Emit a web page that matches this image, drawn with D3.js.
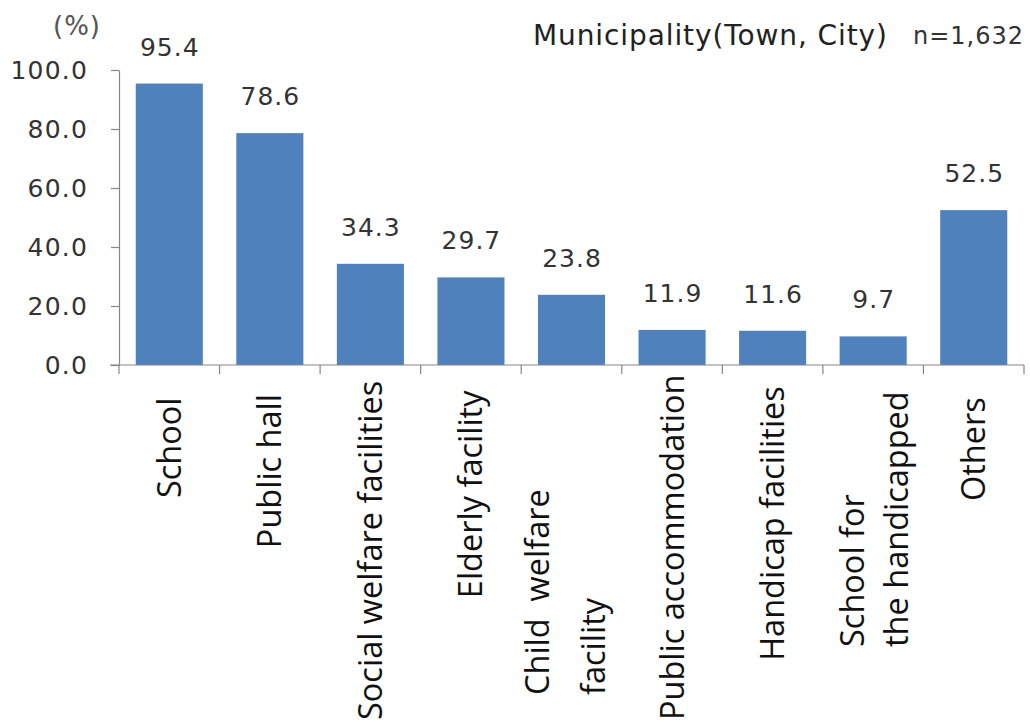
<!DOCTYPE html>
<html>
<head>
<meta charset="utf-8">
<script src="https://cdn.jsdelivr.net/npm/d3@7"></script>
<style>
  html, body { margin: 0; padding: 0; background: #fff; }
  svg { display: block; }
  text { white-space: pre; }
</style>
</head>
<body>
<svg id="chart" width="1030" height="722"></svg>
<script>
// Facility types (each entry is a list of label lines)
const categories = [
  ["School"],
  ["Public hall"],
  ["Social welfare facilities"],
  ["Elderly facility"],
  ["Child  welfare", "facility"],
  ["Public accommodation"],
  ["Handicap facilities"],
  ["School for", "the handicapped"],
  ["Others"]
];
const values = [95.4, 78.6, 34.3, 29.7, 23.8, 11.9, 11.6, 9.7, 52.5];
const yTicks = [0, 20, 40, 60, 80, 100];
const titleText = "Municipality(Town, City)";
const sampleText = "n=1,632";
const unitText = "(%)";

const svg = d3.select("#chart");
const numFont = "'DejaVu Sans', Verdana, sans-serif";
const labelFont = "'Open Sans', 'Noto Sans', sans-serif";

const plotLeft = 119, plotRight = 1024, plotTop = 70, plotBottom = 365;
const keys = categories.map((c, i) => i);

const x = d3.scaleBand().domain(keys).range([plotLeft, plotRight])
  .paddingInner(0.333).paddingOuter(0.1665);
const y = d3.scaleLinear().domain([0, 100]).range([plotBottom, plotTop]);

// Bars
svg.append("g").selectAll("rect").data(values).join("rect")
  .attr("x", (d, i) => x(i))
  .attr("y", d => y(d))
  .attr("width", x.bandwidth())
  .attr("height", d => y(0) - y(d))
  .attr("fill", "#4f81bd");

// Y axis
const yAxis = svg.append("g")
  .attr("transform", `translate(${plotLeft},0)`)
  .call(d3.axisLeft(y).tickValues(yTicks).tickFormat(d3.format(".1f")).tickSize(8).tickSizeOuter(0).tickPadding(23));
yAxis.select(".domain").attr("stroke", "#868686").attr("stroke-width", 1.2);
yAxis.selectAll(".tick line").attr("stroke", "#868686").attr("stroke-width", 1.2);
yAxis.selectAll(".tick text")
  .attr("font-family", numFont).attr("font-size", 25).attr("letter-spacing", 1.2)
  .attr("fill", "#333");

// X axis: boundary ticks between categories
const step = x.step();
const boundaries = d3.range(categories.length + 1).map(i => plotLeft + i * step);
const xAxis = svg.append("g");
xAxis.append("line")
  .attr("x1", plotLeft - 9).attr("x2", plotRight)
  .attr("y1", plotBottom).attr("y2", plotBottom)
  .attr("stroke", "#868686").attr("stroke-width", 1.2);
xAxis.selectAll("line.tick").data(boundaries).join("line")
  .attr("class", "tick")
  .attr("x1", d => d).attr("x2", d => d)
  .attr("y1", plotBottom).attr("y2", plotBottom + 9)
  .attr("stroke", "#868686").attr("stroke-width", 1.2);

// Value labels above bars
svg.append("g").selectAll("text").data(values).join("text")
  .attr("x", (d, i) => x(i) + x.bandwidth() / 2 + 0.5)
  .attr("y", d => y(d) - 28)
  .attr("text-anchor", "middle")
  .attr("font-family", numFont).attr("font-size", 25).attr("letter-spacing", 1)
  .attr("fill", "#333")
  .text(d => d.toFixed(1));

// Rotated category labels
const catSize = 32.5, labelBottomLimit = 720;
// bottom edge, line gap and sideways shift of each two-line label
const multiLine = {
  4: { bottom: 695, gap: 56, shift: -7 },
  7: { bottom: 647, gap: 44, shift: 0 }
};
const catG = svg.append("g");
categories.forEach((lines, i) => {
  const cx = x(i) + x.bandwidth() / 2;
  const g = catG.append("g");
  const texts = lines.map(ln => g.append("text")
    .attr("font-family", labelFont).attr("font-size", catSize).attr("fill", "#111")
    .attr("dominant-baseline", "central")
    .text(ln));
  const lens = texts.map(t => t.node().getComputedTextLength());
  const maxLen = d3.max(lens);
  if (lines.length === 1) {
    const topY = Math.min(404 - 0.065 * maxLen, labelBottomLimit - maxLen);
    texts[0].attr("text-anchor", "end")
      .attr("transform", `translate(${cx - 1},${topY}) rotate(-90)`);
  } else {
    const m = multiLine[i];
    const offset0 = -(lines.length - 1) * m.gap / 2 + m.shift;
    texts.forEach((t, j) => {
      t.attr("text-anchor", "start")
        .attr("transform", `translate(${cx + offset0 + j * m.gap},${m.bottom}) rotate(-90)`);
    });
  }
});

// Title and annotations
svg.append("text").attr("x", 533).attr("y", 45)
  .attr("font-family", numFont).attr("font-size", 28).attr("letter-spacing", 0.9)
  .attr("fill", "#222")
  .text(titleText);
svg.append("text").attr("x", 1024).attr("y", 44).attr("text-anchor", "end")
  .attr("font-family", numFont).attr("font-size", 24).attr("letter-spacing", 1)
  .attr("fill", "#333")
  .text(sampleText);
svg.append("text").attr("x", 77).attr("y", 35).attr("text-anchor", "middle")
  .attr("font-family", numFont).attr("font-size", 26).attr("letter-spacing", 1)
  .attr("fill", "#555")
  .text(unitText);
</script>
</body>
</html>
